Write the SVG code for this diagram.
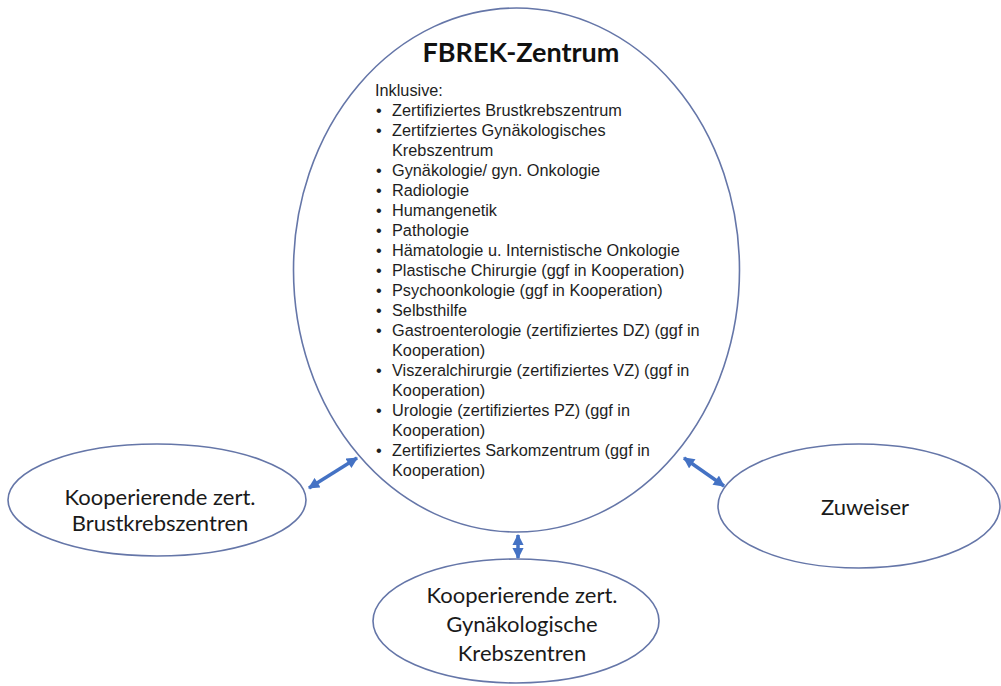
<svg xmlns="http://www.w3.org/2000/svg" width="1001" height="686" viewBox="0 0 1001 686">
<defs>
<marker id="ah" viewBox="0 0 10 10" refX="9" refY="5" markerWidth="3.4" markerHeight="3.2" orient="auto-start-reverse" markerUnits="strokeWidth">
<path d="M0,0 L10,5 L0,10 z" fill="#4472c4"/>
</marker>
<style>
.node{fill:#fff;stroke:#6576a8;stroke-width:1.6}
.conn{stroke:#4472c4;stroke-width:3.5;fill:none;marker-start:url(#ah);marker-end:url(#ah)}
.title{font-family:Lato,"Open Sans",sans-serif;font-weight:bold;font-size:27px;fill:#111;text-anchor:middle}
.lbl{font-family:Lato,"Open Sans",sans-serif;font-size:22px;fill:#1a1a1a;text-anchor:middle}
.li{font-family:"Liberation Sans",Arial,sans-serif;font-size:16.3px;fill:#1e1e1e}
</style>
</defs>
<rect width="1001" height="686" fill="#fff"/>
<g id="main">
<ellipse class="node" cx="516.5" cy="270" rx="223" ry="262"/>
<text class="title" x="521" y="62">FBREK-Zentrum</text>
<text class="li" x="375" y="96">Inklusive:</text>
<g class="li">
<text x="376" y="116">•</text><text x="392" y="116">Zertifiziertes Brustkrebszentrum</text>
<text x="376" y="136">•</text><text x="392" y="136">Zertifziertes Gynäkologisches</text>
<text x="392" y="156">Krebszentrum</text>
<text x="376" y="176">•</text><text x="392" y="176">Gynäkologie/ gyn. Onkologie</text>
<text x="376" y="196">•</text><text x="392" y="196">Radiologie</text>
<text x="376" y="216">•</text><text x="392" y="216">Humangenetik</text>
<text x="376" y="236">•</text><text x="392" y="236">Pathologie</text>
<text x="376" y="256">•</text><text x="392" y="256">Hämatologie u. Internistische Onkologie</text>
<text x="376" y="276">•</text><text x="392" y="276">Plastische Chirurgie (ggf in Kooperation)</text>
<text x="376" y="296">•</text><text x="392" y="296">Psychoonkologie (ggf in Kooperation)</text>
<text x="376" y="316">•</text><text x="392" y="316">Selbsthilfe</text>
<text x="376" y="336">•</text><text x="392" y="336">Gastroenterologie (zertifiziertes DZ) (ggf in</text>
<text x="392" y="356">Kooperation)</text>
<text x="376" y="376">•</text><text x="392" y="376">Viszeralchirurgie (zertifiziertes VZ) (ggf in</text>
<text x="392" y="396">Kooperation)</text>
<text x="376" y="416">•</text><text x="392" y="416">Urologie (zertifiziertes PZ) (ggf in</text>
<text x="392" y="436">Kooperation)</text>
<text x="376" y="456">•</text><text x="392" y="456">Zertifiziertes Sarkomzentrum (ggf in</text>
<text x="392" y="476">Kooperation)</text>
</g>
</g>
<g id="brust">
<ellipse class="node" cx="157" cy="500" rx="149" ry="56"/>
<text class="lbl" x="160" y="505">Kooperierende zert.</text>
<text class="lbl" x="160" y="531">Brustkrebszentren</text>
</g>
<g id="zuweiser">
<ellipse class="node" cx="859" cy="506" rx="141" ry="62"/>
<text class="lbl" x="865" y="515">Zuweiser</text>
</g>
<g id="gyn">
<ellipse class="node" cx="516" cy="621" rx="143" ry="62"/>
<text class="lbl" x="522" y="603">Kooperierende zert.</text>
<text class="lbl" x="522" y="632">Gynäkologische</text>
<text class="lbl" x="522" y="661">Krebszentren</text>
</g>
<g id="connectors">
<line class="conn" x1="309" y1="488" x2="357" y2="458"/>
<line class="conn" x1="684" y1="458" x2="724" y2="486"/>
<line class="conn" x1="518" y1="535" x2="518" y2="558"/>
</g>
</svg>
